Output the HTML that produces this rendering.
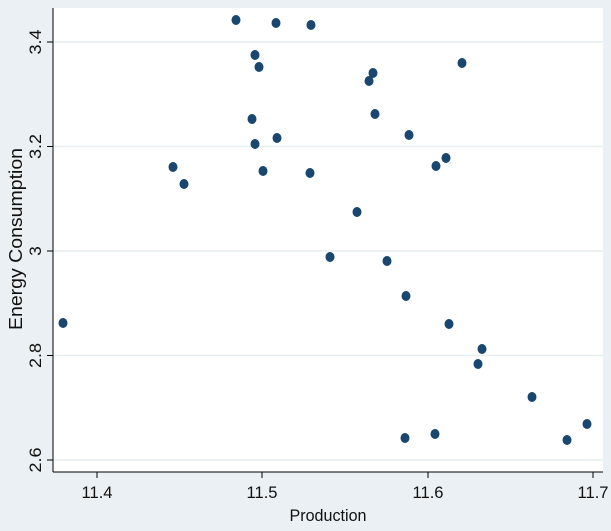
<!DOCTYPE html>
<html><head><style>body{margin:0;background:#eaf0f3}</style></head><body>
<svg width="611" height="526" xmlns="http://www.w3.org/2000/svg" font-family="Liberation Sans, sans-serif">
<rect width="611" height="526" fill="#eaf0f3"/>
<rect x="53" y="8" width="550" height="464" fill="#fff"/>
<g stroke="#e6eef0" stroke-width="1.5">
<line x1="53" x2="603" y1="42" y2="42"/><line x1="53" x2="603" y1="146.5" y2="146.5"/><line x1="53" x2="603" y1="251" y2="251"/><line x1="53" x2="603" y1="355.5" y2="355.5"/><line x1="53" x2="603" y1="460" y2="460"/>
</g>
<g stroke="#000" stroke-width="1">
<line x1="53" y1="8" x2="53" y2="472"/><line x1="53" y1="472" x2="603" y2="472"/>
<line x1="47" x2="53" y1="42" y2="42"/><line x1="47" x2="53" y1="146.5" y2="146.5"/><line x1="47" x2="53" y1="251" y2="251"/><line x1="47" x2="53" y1="355.5" y2="355.5"/><line x1="47" x2="53" y1="460" y2="460"/>
<line x1="97" x2="97" y1="472" y2="478"/><line x1="262" x2="262" y1="472" y2="478"/><line x1="428" x2="428" y1="472" y2="478"/><line x1="593" x2="593" y1="472" y2="478"/>
</g>
<g font-size="17" fill="#111" text-anchor="middle">
<text transform="translate(41,42) rotate(-90)" textLength="25" lengthAdjust="spacingAndGlyphs">3.4</text>
<text transform="translate(41,146.5) rotate(-90)" textLength="25" lengthAdjust="spacingAndGlyphs">3.2</text>
<text transform="translate(41,251) rotate(-90)">3</text>
<text transform="translate(41,355.5) rotate(-90)" textLength="25" lengthAdjust="spacingAndGlyphs">2.8</text>
<text transform="translate(41,460) rotate(-90)" textLength="25" lengthAdjust="spacingAndGlyphs">2.6</text>
<text x="97" y="498" textLength="31" lengthAdjust="spacingAndGlyphs">11.4</text><text x="262" y="498" textLength="31" lengthAdjust="spacingAndGlyphs">11.5</text><text x="428" y="498" textLength="31" lengthAdjust="spacingAndGlyphs">11.6</text><text x="593" y="498" textLength="31" lengthAdjust="spacingAndGlyphs">11.7</text>
<text x="328" y="521" font-size="17" textLength="77" lengthAdjust="spacingAndGlyphs">Production</text>
<text transform="translate(22,239) rotate(-90)" font-size="18" textLength="182" lengthAdjust="spacingAndGlyphs">Energy Consumption</text>
</g>
<g fill="#1a476f">
<ellipse cx="236" cy="20" rx="4.5" ry="5"/><ellipse cx="276" cy="23" rx="4.5" ry="5"/><ellipse cx="311" cy="25" rx="4.5" ry="5"/><ellipse cx="255" cy="55" rx="4.5" ry="5"/><ellipse cx="259" cy="67" rx="4.5" ry="5"/><ellipse cx="373" cy="73" rx="4.5" ry="5"/><ellipse cx="369" cy="81" rx="4.5" ry="5"/><ellipse cx="462" cy="63" rx="4.5" ry="5"/><ellipse cx="375" cy="114" rx="4.5" ry="5"/><ellipse cx="252" cy="119" rx="4.5" ry="5"/><ellipse cx="409" cy="135" rx="4.5" ry="5"/><ellipse cx="255" cy="144" rx="4.5" ry="5"/><ellipse cx="277" cy="138" rx="4.5" ry="5"/><ellipse cx="173" cy="167" rx="4.5" ry="5"/><ellipse cx="184" cy="184" rx="4.5" ry="5"/><ellipse cx="263" cy="171" rx="4.5" ry="5"/><ellipse cx="310" cy="173" rx="4.5" ry="5"/><ellipse cx="436" cy="166" rx="4.5" ry="5"/><ellipse cx="446" cy="158" rx="4.5" ry="5"/><ellipse cx="357" cy="212" rx="4.5" ry="5"/><ellipse cx="330" cy="257" rx="4.5" ry="5"/><ellipse cx="387" cy="261" rx="4.5" ry="5"/><ellipse cx="406" cy="296" rx="4.5" ry="5"/><ellipse cx="63" cy="323" rx="4.5" ry="5"/><ellipse cx="449" cy="324" rx="4.5" ry="5"/><ellipse cx="482" cy="349" rx="4.5" ry="5"/><ellipse cx="478" cy="364" rx="4.5" ry="5"/><ellipse cx="532" cy="397" rx="4.5" ry="5"/><ellipse cx="405" cy="438" rx="4.5" ry="5"/><ellipse cx="435" cy="434" rx="4.5" ry="5"/><ellipse cx="587" cy="424" rx="4.5" ry="5"/><ellipse cx="567" cy="440" rx="4.5" ry="5"/>
</g>
</svg>
</body></html>
